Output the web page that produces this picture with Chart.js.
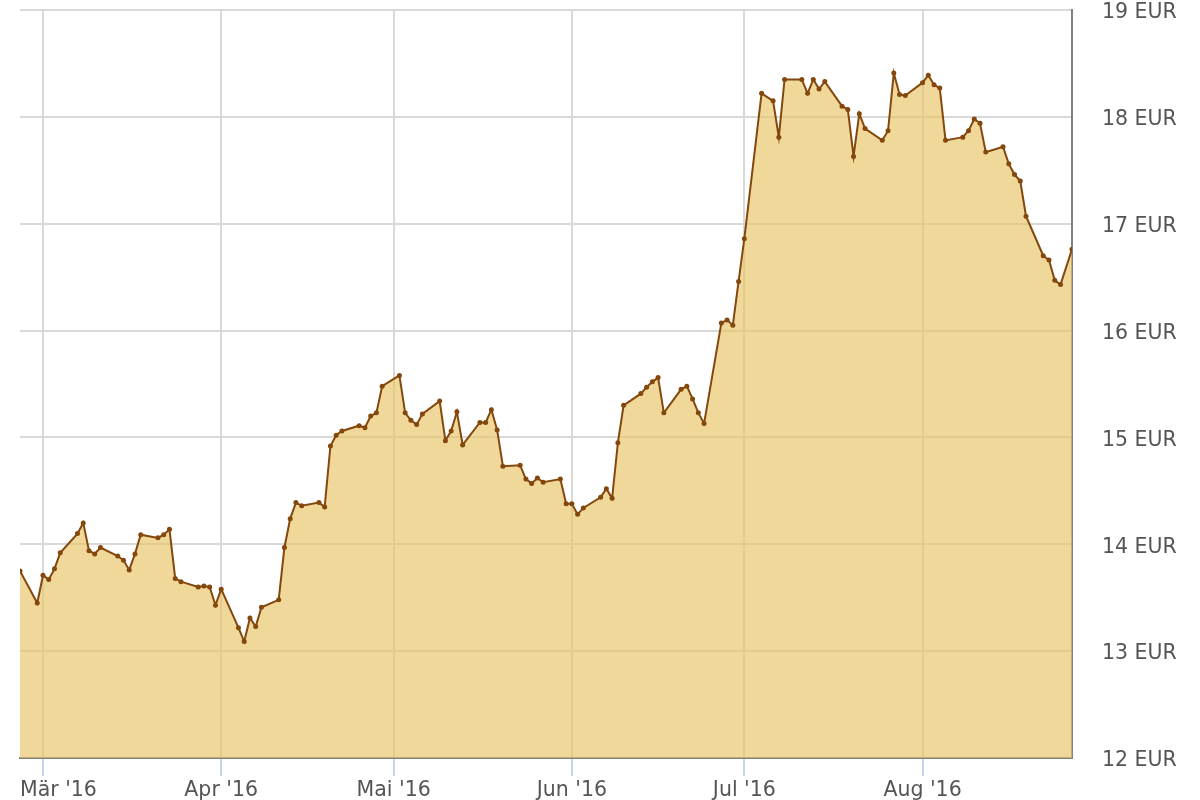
<!DOCTYPE html>
<html><head><meta charset="utf-8">
<script src="https://cdn.jsdelivr.net/npm/chart.js@4/dist/chart.umd.min.js"></script>
<style>html,body{margin:0;padding:0;background:#fff}#wrap{width:1200px;height:800px;position:relative}</style>
</head><body><div id="wrap"><canvas id="c" width="1200" height="800"></canvas></div>
<script>
const dates = [
 '2016-02-26','2016-02-29','2016-03-01','2016-03-02','2016-03-03','2016-03-04','2016-03-07','2016-03-08','2016-03-09','2016-03-10','2016-03-11',
 '2016-03-14','2016-03-15','2016-03-16','2016-03-17','2016-03-18','2016-03-21','2016-03-22','2016-03-23','2016-03-24','2016-03-25',
 '2016-03-28','2016-03-29','2016-03-30','2016-03-31','2016-04-01','2016-04-04','2016-04-05','2016-04-06','2016-04-07','2016-04-08',
 '2016-04-11','2016-04-12','2016-04-13','2016-04-14','2016-04-15','2016-04-18','2016-04-19','2016-04-20','2016-04-21','2016-04-22',
 '2016-04-25','2016-04-26','2016-04-27','2016-04-28','2016-04-29','2016-05-02','2016-05-03','2016-05-04','2016-05-05','2016-05-06',
 '2016-05-09','2016-05-10','2016-05-11','2016-05-12','2016-05-13','2016-05-16','2016-05-17','2016-05-18','2016-05-19','2016-05-20',
 '2016-05-23','2016-05-24','2016-05-25','2016-05-26','2016-05-27','2016-05-30','2016-05-31','2016-06-01','2016-06-02','2016-06-03',
 '2016-06-06','2016-06-07','2016-06-08','2016-06-09','2016-06-10','2016-06-13','2016-06-14','2016-06-15','2016-06-16','2016-06-17',
 '2016-06-20','2016-06-21','2016-06-22','2016-06-23','2016-06-24','2016-06-27','2016-06-28','2016-06-29','2016-06-30','2016-07-01',
 '2016-07-04','2016-07-06','2016-07-07','2016-07-08','2016-07-11','2016-07-12','2016-07-13','2016-07-14','2016-07-15',
 '2016-07-18','2016-07-19','2016-07-20','2016-07-21','2016-07-22','2016-07-25','2016-07-26','2016-07-27','2016-07-28','2016-07-29',
 '2016-08-01','2016-08-02','2016-08-03','2016-08-04','2016-08-05','2016-08-08','2016-08-09','2016-08-10','2016-08-11','2016-08-12',
 '2016-08-15','2016-08-16','2016-08-17','2016-08-18','2016-08-19','2016-08-22','2016-08-23','2016-08-24','2016-08-25','2016-08-27'
];
const prices = [
 13.75,13.45,13.71,13.67,13.77,13.92,14.10,14.20,13.94,13.91,13.97,
 13.89,13.85,13.76,13.91,14.09,14.06,14.09,14.14,13.68,13.65,
 13.60,13.61,13.60,13.43,13.58,13.22,13.09,13.31,13.23,13.41,
 13.48,13.97,14.24,14.39,14.36,14.39,14.35,14.92,15.02,15.06,
 15.11,15.09,15.20,15.23,15.48,15.58,15.23,15.16,15.12,15.22,
 15.34,14.97,15.06,15.24,14.93,15.14,15.14,15.26,15.07,14.73,
 14.74,14.61,14.57,14.62,14.58,14.61,14.38,14.38,14.28,14.34,
 14.44,14.52,14.43,14.95,15.30,15.41,15.47,15.52,15.56,15.23,
 15.45,15.48,15.36,15.23,15.13,16.07,16.10,16.05,16.46,16.86,
 18.22,18.15,17.81,18.35,18.35,18.22,18.35,18.26,18.33,
 18.10,18.07,17.63,18.03,17.89,17.78,17.87,18.41,18.21,18.20,
 18.32,18.39,18.30,18.27,17.78,17.81,17.87,17.98,17.94,17.67,
 17.72,17.56,17.46,17.40,17.07,16.70,16.66,16.47,16.43,16.76
];
const monthTicks = ['2016-03-01','2016-04-01','2016-05-01','2016-06-01','2016-07-01','2016-08-01'];
const monthLabels = ["Mär '16","Apr '16","Mai '16","Jun '16","Jul '16","Aug '16"];
const xRange = ['2016-02-26','2016-08-27'];
const yTicks = [12,13,14,15,16,17,18,19];
const unit = 'EUR';

const toDay = s => Date.UTC(+s.slice(0,4), +s.slice(5,7)-1, +s.slice(8,10)) / 86400000;
const tickDays = monthTicks.map(toDay);
const FONT = {family: "'DejaVu Sans', sans-serif", size: 20.5, lineHeight: 1};

// keep labels that would overflow the plot's left edge inside it (justify)
function justifyLabels(ax) {
  if (ax._justified) return;
  ax._justified = true;
  const orig = ax._computeLabelItems.bind(ax);
  ax._computeLabelItems = function (ca) {
    const items = orig(ca);
    const ctx = ax.ctx;
    items.forEach(it => {
      const o = it.options;
      if (!o || !o.translation) return;
      ctx.save();
      ctx.font = it.font && it.font.string ? it.font.string : '20px DejaVu Sans';
      const w = ctx.measureText(String(it.label)).width;
      ctx.restore();
      if (o.translation[0] - w / 2 < ax.left) {
        o.textAlign = 'left';
        o.translation = [ax.left, o.translation[1]];
      }
    });
    return items;
  };
}

new Chart(document.getElementById('c'), {
  type: 'line',
  data: { datasets: [{
    data: dates.map((d,i) => ({x: toDay(d), y: prices[i]})),
    borderColor: '#84470c', borderWidth: 2,
    pointRadius: 2.5, pointBackgroundColor: '#84470c', pointBorderWidth: 0,
    backgroundColor: 'rgba(232,195,101,0.65)', fill: 'start', tension: 0
  }]},
  options: {
    responsive: false, animation: false, devicePixelRatio: 1,
    layout: { padding: { left: 20, top: 0, right: 0, bottom: 0 } },
    plugins: { legend: {display: false}, tooltip: {enabled: false} },
    scales: {
      x: {
        type: 'linear', min: toDay(xRange[0]), max: toDay(xRange[1]),
        afterBuildTicks: ax => { ax.ticks = tickDays.map(v => ({value: v})); },
        afterFit: ax => { ax.height = 42; ax.paddingLeft = 0; ax.paddingRight = 0; justifyLabels(ax); },
        ticks: { autoSkip: false, maxRotation: 0, color: '#555', font: FONT, padding: 4,
          callback: v => { const i = tickDays.indexOf(v); return i >= 0 ? monthLabels[i] : ''; } },
        grid: { color: '#d9d9d9', lineWidth: 2, tickColor: '#c6d4e6', tickLength: 18, tickWidth: 2 },
        border: { color: '#808080', width: 2 }
      },
      y: {
        position: 'right', min: yTicks[0], max: yTicks[yTicks.length-1],
        afterBuildTicks: ax => { ax.ticks = yTicks.map(v => ({value: v})); },
        afterFit: ax => { ax.width = 128; ax.paddingTop = 10; ax.paddingBottom = 0; },
        ticks: { color: '#555', font: FONT, padding: 30, labelOffset: 3, callback: v => v + ' ' + unit },
        grid: { color: '#d9d9d9', lineWidth: 2, drawTicks: false },
        border: { color: '#808080', width: 2 }
      }
    }
  }
});
</script></body></html>
